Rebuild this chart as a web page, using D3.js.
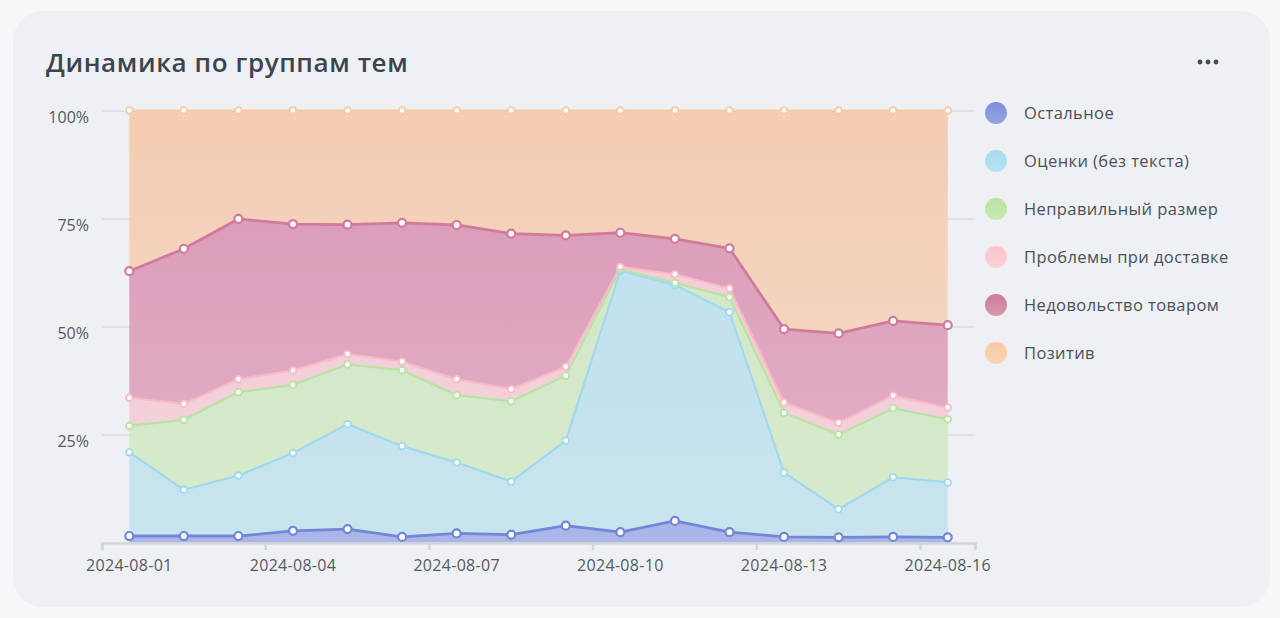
<!DOCTYPE html>
<html>
<head>
<meta charset="utf-8">
<script src="https://cdn.jsdelivr.net/npm/d3@7"></script>
<style>
  html, body { margin: 0; padding: 0; background: #f6f7f8; }
  svg { display: block; font-family: "Open Sans", "Noto Sans", sans-serif; }
</style>
</head>
<body>
<svg id="chart" width="1280" height="618"></svg>
<script>
const dates = ["2024-08-01","2024-08-02","2024-08-03","2024-08-04","2024-08-05","2024-08-06","2024-08-07","2024-08-08",
               "2024-08-09","2024-08-10","2024-08-11","2024-08-12","2024-08-13","2024-08-14","2024-08-15","2024-08-16"];
const seriesNames = ["Остальное","Оценки (без текста)","Неправильный размер","Проблемы при доставке","Недовольство товаром","Позитив"];
const ostalnoe   = [1.5,1.5,1.5,2.7,3.1,1.3,2.1,1.8,3.9,2.4,5.0,2.4,1.3,1.2,1.3,1.2];
const otsenki    = [19.4,10.7,14.0,18.0,24.3,21.0,16.4,12.3,19.7,60.5,54.6,50.9,14.9,6.5,13.8,12.7];
const razmer     = [6.1,16.2,19.3,15.8,13.8,17.6,15.6,18.6,15.0,0.4,0.5,3.5,13.8,17.3,16.0,14.6];
const dostavka   = [6.5,3.7,3.0,3.3,2.4,2.0,3.7,2.8,2.1,0.5,2.0,2.0,2.4,2.7,2.9,2.7];
const nedovolstvo= [29.3,35.9,37.1,33.9,30.0,32.1,35.7,36.0,30.4,7.9,8.2,9.3,17.0,20.7,17.3,19.1];
const pozitiv    = [37.2,32.0,25.1,26.3,26.4,26.0,26.5,28.5,28.9,28.3,29.7,31.9,50.6,51.6,48.7,49.7];
const yTicks = [0.25, 0.5, 0.75, 1];
const xTickDates = ["2024-08-01","2024-08-04","2024-08-07","2024-08-10","2024-08-13","2024-08-16"];
const chartTitle = "Динамика по группам тем";

const seriesValues = [ostalnoe, otsenki, razmer, dostavka, nedovolstvo, pozitiv];
const lineColors   = ["#7386d9","#a0d9ee","#b8e3a2","#f8bac7","#d27a9b","#f6c8a3"];
const fillTop      = ["#a2aee6","#bddfee","#d0e7c4","#f3c9d4","#d996b4","#f4ccb2"];
const fillBottom   = ["#aab6e8","#c8e4ee","#d7eacd","#f3d3dc","#e3b4c9","#f5ddcd"];
const legendColors = ["#7b8edc","#a8dcef","#b9e3a3","#fbc4cd","#d07c99","#f8c9a3"];

const table = dates.map((d, i) => {
  const row = { date: d };
  seriesNames.forEach((s, k) => row[s] = seriesValues[k][i]);
  return row;
});

const svg = d3.select("#chart");
const defs = svg.append("defs");

// background card
svg.append("rect").attr("x", 13).attr("y", 11).attr("width", 1257).attr("height", 596)
  .attr("rx", 30).attr("fill", "#eef0f3");

svg.append("text").attr("x", 46).attr("y", 72).attr("fill", "#3c4450")
  .attr("font-size", 26).attr("font-weight", 600).attr("letter-spacing", 0.6)
  .text(chartTitle);

// menu dots
[1200, 1208, 1216].forEach(cx => svg.append("circle").attr("cx", cx).attr("cy", 62).attr("r", 2.4).attr("fill", "#454b55"));

const pLeft = 102, pRight = 975, pTop = 110.5, pBottom = 542.5;
const x = d3.scaleBand().domain(dates).range([pLeft, pRight]).paddingInner(0).paddingOuter(0);
const xc = d => x(d) + x.bandwidth() / 2;
const y = d3.scaleLinear().domain([0, 1]).range([pBottom, pTop]);

const stack = d3.stack().keys(seriesNames).offset(d3.stackOffsetExpand);
const stacked = stack(table);

// gradients
stacked.forEach((s, k) => {
  const g = defs.append("linearGradient").attr("id", "g" + k)
    .attr("gradientUnits", "userSpaceOnUse").attr("x1", 0).attr("x2", 0).attr("y1", pTop).attr("y2", pBottom);
  g.append("stop").attr("offset", "0%").attr("stop-color", fillTop[k]);
  g.append("stop").attr("offset", "100%").attr("stop-color", fillBottom[k]);
});

// y grid / axis
const yAxis = d3.axisLeft(y).tickValues(yTicks).tickSize(pRight - pLeft).tickPadding(13)
  .tickFormat(d3.format(".0%"));
const gy = svg.append("g").attr("transform", `translate(${pRight},0)`).call(yAxis);
gy.select(".domain").remove();
gy.selectAll(".tick line").attr("stroke", "#d3d5da").attr("stroke-width", 1);
gy.selectAll(".tick text").attr("fill", "#555b65").attr("font-size", 16)
  .attr("font-family", "'Open Sans', sans-serif").attr("y", 7);

// areas
const area = d3.area().x(d => xc(d.data.date)).y0(d => y(d[0])).y1(d => y(d[1]));
svg.append("g").selectAll("path").data(stacked).join("path")
  .attr("d", area).attr("fill", (d, k) => `url(#g${k})`);

// lines
const line = d3.line().x(d => xc(d.data.date)).y(d => y(d[1]));
svg.append("g").selectAll("path").data(stacked).join("path")
  .attr("d", line).attr("fill", "none").attr("stroke", (d, k) => lineColors[k])
  .attr("stroke-width", (d, k) => (k === 0 || k === 4) ? 2.8 : 2.2)
  .attr("stroke-linejoin", "round");

// x axis
const xAxis = d3.axisBottom(x).tickValues(xTickDates).tickSize(7).tickSizeOuter(7).tickPadding(10);
const gx = svg.append("g").attr("transform", `translate(0,${pBottom + 0.5})`).call(xAxis);
gx.select(".domain").attr("stroke", "#d2d4d8").attr("stroke-width", 2.5);
gx.selectAll(".tick line").attr("stroke", "#d2d4d8").attr("stroke-width", 2.5)
  .attr("transform", `translate(${-x.bandwidth() / 2},0)`);
gx.selectAll(".tick text").attr("fill", "#555b65").attr("font-size", 16)
  .attr("letter-spacing", 0.3).attr("font-family", "'Open Sans', sans-serif");

// markers
stacked.forEach((s, k) => {
  svg.append("g").selectAll("circle").data(s).join("circle")
    .attr("cx", d => xc(d.data.date)).attr("cy", d => y(d[1]))
    .attr("r", (k === 0 || k === 4) ? 4 : 3.3)
    .attr("fill", "#ffffff").attr("stroke", lineColors[k])
    .attr("stroke-width", (k === 0 || k === 4) ? 2.2 : 1.8);
});

// legend
seriesNames.forEach((s, k) => {
  const lg = defs.append("linearGradient").attr("id", "lg" + k).attr("x1", 0).attr("x2", 0).attr("y1", 0).attr("y2", 1);
  lg.append("stop").attr("offset", "0%").attr("stop-color", legendColors[k]);
  lg.append("stop").attr("offset", "100%").attr("stop-color", d3.interpolateRgb(legendColors[k], "#ffffff")(0.2));
});
const legend = svg.append("g");
const items = legend.selectAll("g").data(seriesNames).join("g")
  .attr("transform", (d, k) => `translate(996,${113 + k * 48})`);
items.append("circle").attr("r", 11).attr("fill", (d, k) => `url(#lg${k})`);
items.append("text").attr("x", 28).attr("dy", "0.35em").attr("fill", "#4b515b")
  .attr("font-size", 16.5).attr("letter-spacing", 0.4).text(d => d);
</script>
</body>
</html>
